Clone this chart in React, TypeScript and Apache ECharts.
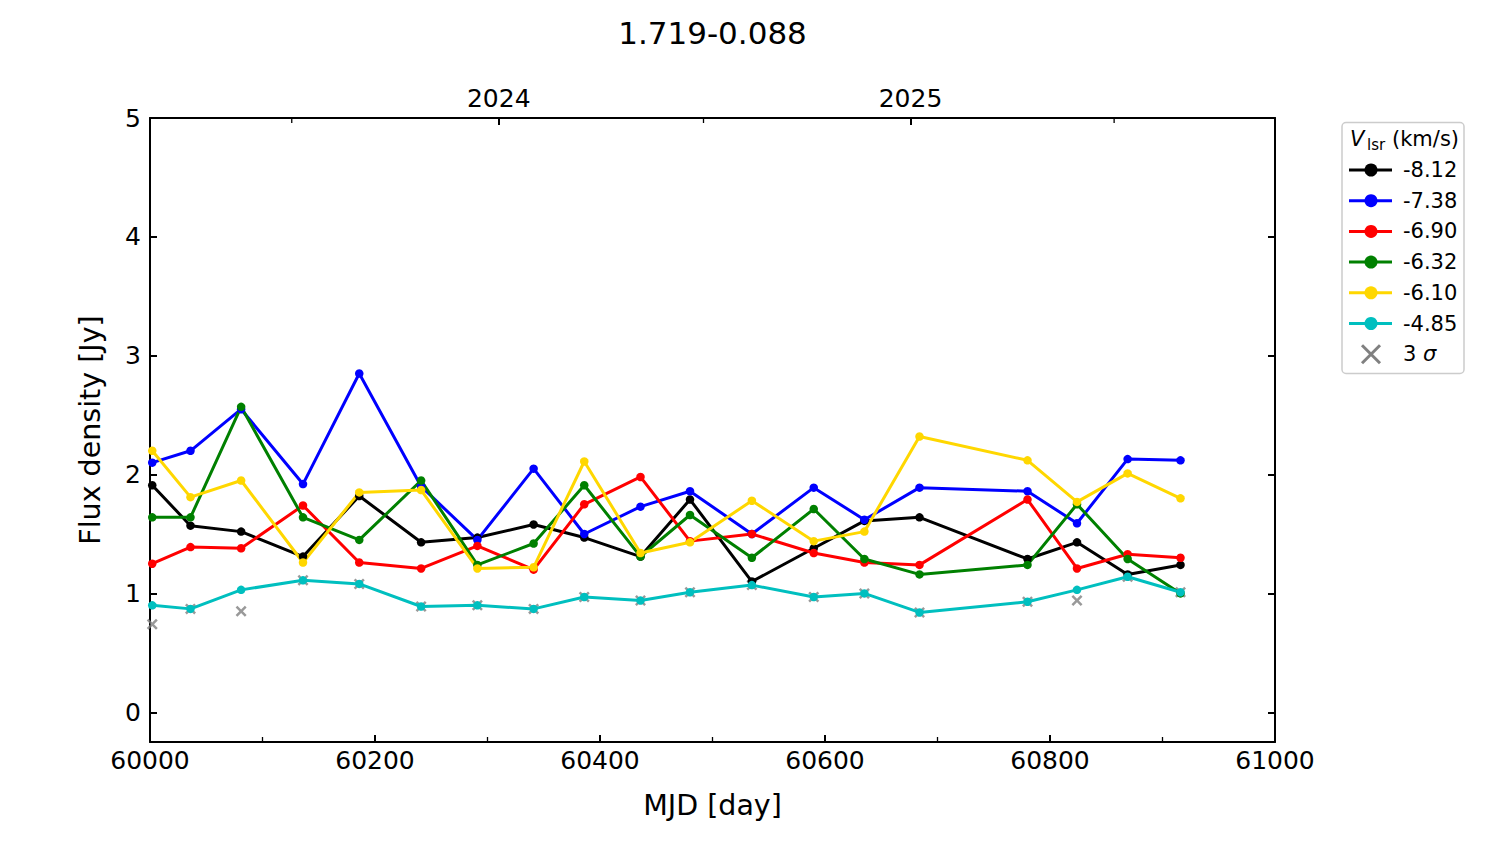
import React, { useEffect, useRef } from "react";
import * as echarts from "echarts";

const FONT = "DejaVu Sans";

const mjd = [60002, 60036, 60081, 60136, 60186, 60241, 60291, 60341, 60386, 60436, 60480, 60535, 60590, 60635, 60684, 60780, 60824, 60869, 60916];
const vlsrLabels = ["-8.12", "-7.38", "-6.90", "-6.32", "-6.10", "-4.85"];
const seriesColors = ["#000000", "#0000ff", "#ff0000", "#008000", "#ffd700", "#00bfbf"];
const flux_m812 = [1.91, 1.57, 1.52, 1.31, 1.82, 1.43, 1.47, 1.58, 1.47, 1.31, 1.79, 1.10, 1.38, 1.61, 1.64, 1.29, 1.43, 1.16, 1.24];
const flux_m738 = [2.10, 2.20, 2.55, 1.92, 2.85, 1.90, 1.45, 2.05, 1.50, 1.73, 1.86, 1.50, 1.89, 1.62, 1.89, 1.86, 1.59, 2.13, 2.12];
const flux_m690 = [1.25, 1.39, 1.38, 1.74, 1.26, 1.21, 1.40, 1.20, 1.75, 1.98, 1.44, 1.50, 1.34, 1.26, 1.24, 1.79, 1.21, 1.33, 1.30];
const flux_m632 = [1.64, 1.64, 2.57, 1.64, 1.45, 1.95, 1.24, 1.42, 1.91, 1.31, 1.66, 1.30, 1.71, 1.29, 1.16, 1.24, 1.75, 1.29, 1.00];
const flux_m610 = [2.20, 1.81, 1.95, 1.26, 1.85, 1.87, 1.21, 1.22, 2.11, 1.34, 1.43, 1.78, 1.44, 1.52, 2.32, 2.12, 1.77, 2.01, 1.80];
const flux_m485 = [0.90, 0.87, 1.03, 1.11, 1.08, 0.89, 0.90, 0.87, 0.97, 0.94, 1.01, 1.07, 0.97, 1.00, 0.84, 0.93, 1.03, 1.14, 1.01];
const sigma3 = [0.74, 0.87, 0.85, 1.11, 1.08, 0.89, 0.90, 0.87, 0.97, 0.94, 1.01, 1.07, 0.97, 1.00, 0.84, 0.93, 0.94, 1.14, 1.01];
const fluxSeries = [flux_m812, flux_m738, flux_m690, flux_m632, flux_m610, flux_m485];

const yTicks = [0, 1, 2, 3, 4, 5];
const topTickValues = [60310, 60676];
const topTickLabels = ["2024", "2025"];
const topMinorValues = [60126, 60492, 60857];
const titleText = "1.719-0.088";

const X_PATH = "path://M0,1.6L1.6,0L5,3.4L8.4,0L10,1.6L6.6,5L10,8.4L8.4,10L5,6.6L1.6,10L0,8.4L3.4,5Z";

function legendGraphics(): any[] {
  const els: any[] = [];
  els.push({
    type: "rect",
    shape: { x: 1342, y: 122.5, width: 122, height: 251, r: 4 },
    style: { fill: "rgba(255,255,255,0.8)", stroke: "#cccccc", lineWidth: 1.5 },
    z: 100,
  });
  els.push({ type: "text", x: 1350, y: 139, z: 101, style: { text: "V", fontFamily: FONT, fontSize: 21, fontStyle: "italic", fill: "#000", verticalAlign: "middle" } });
  els.push({ type: "text", x: 1367, y: 145, z: 101, style: { text: "lsr", fontFamily: FONT, fontSize: 15, fill: "#000", verticalAlign: "middle" } });
  els.push({ type: "text", x: 1392, y: 139, z: 101, style: { text: "(km/s)", fontFamily: FONT, fontSize: 21, fill: "#000", verticalAlign: "middle" } });
  const y0 = 170;
  const step = 30.7;
  vlsrLabels.forEach((lab, i) => {
    const yc = y0 + i * step;
    els.push({ type: "line", z: 101, shape: { x1: 1349, y1: yc, x2: 1392, y2: yc }, style: { stroke: seriesColors[i], lineWidth: 3 } });
    els.push({ type: "circle", z: 102, shape: { cx: 1371, cy: yc, r: 6.5 }, style: { fill: seriesColors[i] } });
    els.push({ type: "text", z: 101, x: 1403, y: yc, style: { text: lab, fontFamily: FONT, fontSize: 21, fill: "#000", verticalAlign: "middle" } });
  });
  const ys = y0 + 6 * step;
  els.push({ type: "line", z: 101, shape: { x1: 1362, y1: ys - 9, x2: 1380, y2: ys + 9 }, style: { stroke: "#808080", lineWidth: 3 } });
  els.push({ type: "line", z: 101, shape: { x1: 1362, y1: ys + 9, x2: 1380, y2: ys - 9 }, style: { stroke: "#808080", lineWidth: 3 } });
  els.push({
    type: "text", z: 101, x: 1403, y: ys,
    style: { text: "3 {i|σ}", rich: { i: { fontStyle: "italic", fontFamily: FONT, fontSize: 21 } }, fontFamily: FONT, fontSize: 21, fill: "#000", verticalAlign: "middle" },
  });
  els.push({
    type: "text", z: 101, x: 712.5, y: 33,
    style: { text: titleText, fontFamily: FONT, fontSize: 31, fill: "#000", align: "center", verticalAlign: "middle" },
  });
  return els;
}

function buildOption(extraGraphics: any[]): any {
  const axisLineStyle = { color: "#000", width: 2 };
  const labelStyle = { fontFamily: FONT, fontSize: 25, color: "#000" };
  const nameStyle = { fontFamily: FONT, fontSize: 28.5, color: "#000" };
  const series: any[] = fluxSeries.map((arr, i) => ({
    type: "line",
    name: vlsrLabels[i],
    xAxisIndex: 0,
    yAxisIndex: 0,
    data: mjd.map((x, j) => [x, arr[j]]),
    symbol: "circle",
    symbolSize: 8.5,
    showSymbol: true,
    lineStyle: { color: seriesColors[i], width: 3 },
    itemStyle: { color: seriesColors[i] },
    emphasis: { disabled: true },
  }));
  series.push({
    type: "scatter",
    name: "3 σ",
    xAxisIndex: 0,
    yAxisIndex: 0,
    data: mjd.map((x, j) => [x, sigma3[j]]),
    symbol: X_PATH,
    symbolSize: 11,
    itemStyle: { color: "#808080" },
    emphasis: { disabled: true },
  });

  return {
    animation: false,
    backgroundColor: "#ffffff",
    grid: { left: 150, top: 118, width: 1125, height: 624, containLabel: false },
    xAxis: [
      {
        type: "value",
        position: "bottom",
        min: 60000,
        max: 61000,
        interval: 200,
        name: "MJD [day]",
        nameLocation: "middle",
        nameGap: 49,
        nameTextStyle: nameStyle,
        axisLine: { show: true, onZero: false, lineStyle: axisLineStyle },
        axisTick: { show: true, inside: true, length: 7, lineStyle: { color: "#000", width: 2 } },
        minorTick: { show: true, splitNumber: 2, length: 5, lineStyle: { color: "#000", width: 1.3 } },
        axisLabel: { ...labelStyle, margin: 6, formatter: (v: number) => String(v) },
        splitLine: { show: false },
        minorSplitLine: { show: false },
      },
      {
        type: "value",
        position: "top",
        min: 60000,
        max: 61000,
        axisLine: { show: true, onZero: false, lineStyle: axisLineStyle },
        axisTick: { show: true, inside: true, length: 7, customValues: topTickValues, lineStyle: { color: "#000", width: 2 } },
        axisLabel: {
          ...labelStyle,
          margin: 7,
          customValues: topTickValues,
          formatter: (v: number) => {
            const k = topTickValues.indexOf(v);
            return k >= 0 ? topTickLabels[k] : "";
          },
        },
        splitLine: { show: false },
      },
    ],
    yAxis: [
      {
        type: "value",
        position: "left",
        min: -0.25,
        max: 5,
        name: "Flux density [Jy]",
        nameLocation: "middle",
        nameGap: 45,
        nameTextStyle: nameStyle,
        axisLine: { show: true, onZero: false, lineStyle: axisLineStyle },
        axisTick: { show: true, inside: true, length: 7, customValues: yTicks, lineStyle: { color: "#000", width: 2 } },
        axisLabel: { ...labelStyle, margin: 9, customValues: yTicks },
        splitLine: { show: false },
      },
      {
        type: "value",
        position: "right",
        min: -0.25,
        max: 5,
        axisLine: { show: true, onZero: false, lineStyle: axisLineStyle },
        axisTick: { show: true, inside: true, length: 7, customValues: yTicks, lineStyle: { color: "#000", width: 2 } },
        axisLabel: { show: false },
        splitLine: { show: false },
      },
    ],
    graphic: [...legendGraphics(), ...extraGraphics],
    series,
  };
}

export default function App() {
  const ref = useRef<HTMLDivElement>(null);
  useEffect(() => {
    document.body.style.margin = "0";
    if (!ref.current) return;
    const chart = echarts.init(ref.current, undefined, { renderer: "svg" });
    chart.setOption(buildOption([]));
    const yTop = chart.convertToPixel({ yAxisIndex: 0 }, 5) as number;
    const minorEls = topMinorValues.map((v) => {
      const px = chart.convertToPixel({ xAxisIndex: 1 }, v) as number;
      return { type: "line", z: 50, shape: { x1: px, y1: yTop, x2: px, y2: yTop + 5 }, style: { stroke: "#000", lineWidth: 1.3 } };
    });
    chart.setOption(buildOption(minorEls), { notMerge: true });
    return () => chart.dispose();
  }, []);
  return <div ref={ref} style={{ width: 1500, height: 844 }} />;
}
